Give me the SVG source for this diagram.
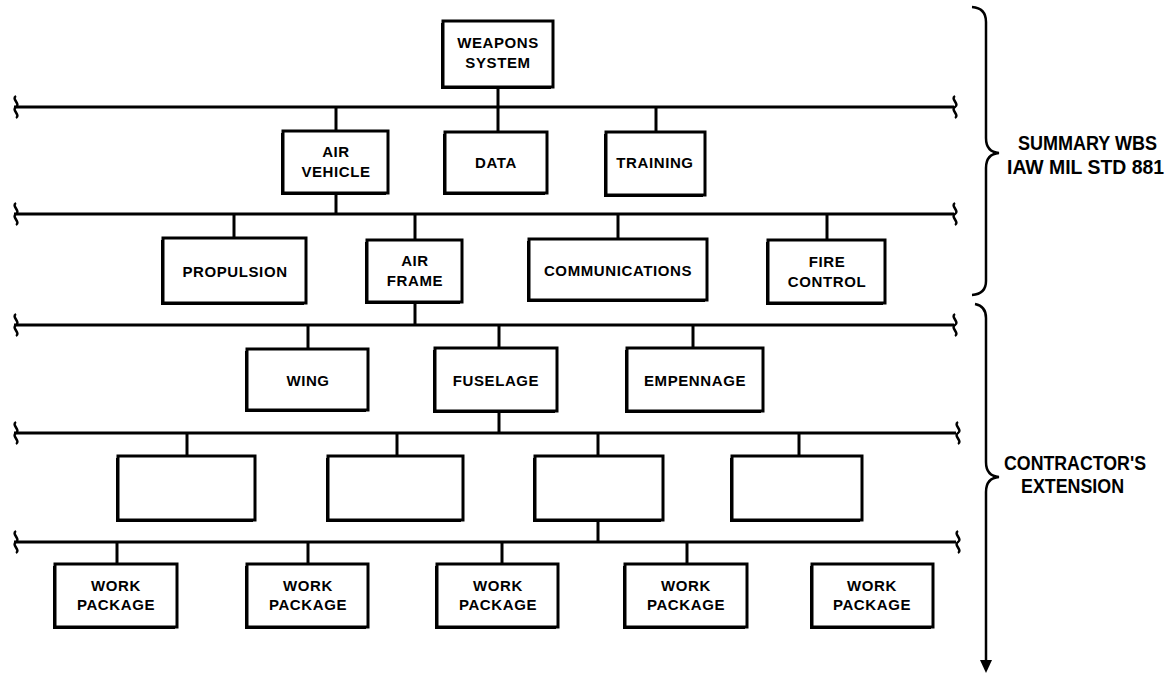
<svg xmlns="http://www.w3.org/2000/svg" xmlns:xlink="http://www.w3.org/1999/xlink" width="1174" height="674" viewBox="0 0 1174 674">
  <style>
    .sh { fill: #000; }
    .box { fill: #fff; stroke: #000; stroke-width: 3; }
    .lbl { font-family: "Liberation Sans", Arial, sans-serif; font-weight: bold; font-size: 15px; letter-spacing: 0.6px; text-anchor: middle; fill: #000; }
    .wire { stroke: #000; stroke-width: 3; fill: none; }
    .brk { stroke: #000; stroke-width: 2.5; fill: none; }
    .side { font-family: "Liberation Sans", Arial, sans-serif; font-weight: bold; font-size: 20px; fill: #000; }
  </style>
  <defs>
    <!-- break mark drawn at each open end of a level bar -->
    <path id="brk" d="M0,-11 c-5,3 5,8 0,11 c-5,3 5,8 0,11"/>
  </defs>
  <rect width="1174" height="674" fill="#fff"/>

  <!-- connectors: level bars, drops and break marks -->
  <g id="connectors">
    <g class="wire">
      <line x1="14" y1="107" x2="954" y2="107"/>
      <line x1="14" y1="214" x2="954" y2="214"/>
      <line x1="14" y1="325" x2="954" y2="325"/>
      <line x1="14" y1="433" x2="956" y2="433"/>
      <line x1="14" y1="542" x2="956" y2="542"/>

      <line x1="498" y1="87" x2="498" y2="132"/>
      <line x1="336" y1="107" x2="336" y2="131"/>
      <line x1="656" y1="107" x2="656" y2="132"/>
      <line x1="336" y1="193" x2="336" y2="214"/>

      <line x1="234" y1="214" x2="234" y2="238"/>
      <line x1="415" y1="214" x2="415" y2="240"/>
      <line x1="618" y1="214" x2="618" y2="239"/>
      <line x1="827" y1="214" x2="827" y2="240"/>
      <line x1="415" y1="302" x2="415" y2="325"/>

      <line x1="308" y1="325" x2="308" y2="349"/>
      <line x1="499" y1="325" x2="499" y2="348"/>
      <line x1="693" y1="325" x2="693" y2="348"/>
      <line x1="499" y1="411" x2="499" y2="433"/>

      <line x1="187" y1="433" x2="187" y2="456"/>
      <line x1="397" y1="433" x2="397" y2="456"/>
      <line x1="598" y1="433" x2="598" y2="456"/>
      <line x1="799" y1="433" x2="799" y2="456"/>
      <line x1="598" y1="520" x2="598" y2="542"/>

      <line x1="117" y1="542" x2="117" y2="564"/>
      <line x1="308" y1="542" x2="308" y2="564"/>
      <line x1="502" y1="542" x2="502" y2="564"/>
      <line x1="687" y1="542" x2="687" y2="564"/>
    </g>
    <g class="brk">
      <use xlink:href="#brk" x="16" y="107"/>
      <use xlink:href="#brk" x="16" y="214"/>
      <use xlink:href="#brk" x="16" y="325"/>
      <use xlink:href="#brk" x="16" y="433"/>
      <use xlink:href="#brk" x="16" y="542"/>
      <use xlink:href="#brk" x="955" y="107"/>
      <use xlink:href="#brk" x="955" y="214"/>
      <use xlink:href="#brk" x="955" y="325"/>
      <use xlink:href="#brk" x="958" y="433"/>
      <use xlink:href="#brk" x="958" y="542"/>
    </g>
  </g>

  <!-- level 1 -->
  <g id="n-weapons-system">
    <rect class="sh" x="441" y="23" width="110" height="66"/>
    <rect class="box" x="443" y="21" width="110" height="66"/>
    <text class="lbl" x="498" y="48">WEAPONS</text>
    <text class="lbl" x="498" y="68">SYSTEM</text>
  </g>

  <!-- level 2 -->
  <g id="n-air-vehicle">
    <rect class="sh" x="281" y="133" width="105" height="62"/>
    <rect class="box" x="283" y="131" width="105" height="62"/>
    <text class="lbl" x="336" y="157">AIR</text>
    <text class="lbl" x="336" y="177">VEHICLE</text>
  </g>
  <g id="n-data">
    <rect class="sh" x="443" y="134" width="102" height="61"/>
    <rect class="box" x="445" y="132" width="102" height="61"/>
    <text class="lbl" x="496" y="168">DATA</text>
  </g>
  <g id="n-training">
    <rect class="sh" x="604" y="134" width="99" height="63"/>
    <rect class="box" x="606" y="132" width="99" height="63"/>
    <text class="lbl" x="655" y="168">TRAINING</text>
  </g>

  <!-- level 3 -->
  <g id="n-propulsion">
    <rect class="sh" x="161" y="240" width="143" height="65"/>
    <rect class="box" x="163" y="238" width="143" height="65"/>
    <text class="lbl" x="235" y="277">PROPULSION</text>
  </g>
  <g id="n-air-frame">
    <rect class="sh" x="365" y="242" width="95" height="62"/>
    <rect class="box" x="367" y="240" width="95" height="62"/>
    <text class="lbl" x="415" y="266">AIR</text>
    <text class="lbl" x="415" y="286">FRAME</text>
  </g>
  <g id="n-communications">
    <rect class="sh" x="527" y="241" width="178" height="61"/>
    <rect class="box" x="529" y="239" width="178" height="61"/>
    <text class="lbl" x="618" y="276">COMMUNICATIONS</text>
  </g>
  <g id="n-fire-control">
    <rect class="sh" x="766" y="242" width="117" height="63"/>
    <rect class="box" x="768" y="240" width="117" height="63"/>
    <text class="lbl" x="827" y="267">FIRE</text>
    <text class="lbl" x="827" y="287">CONTROL</text>
  </g>

  <!-- level 4 -->
  <g id="n-wing">
    <rect class="sh" x="245" y="351" width="121" height="61"/>
    <rect class="box" x="247" y="349" width="121" height="61"/>
    <text class="lbl" x="308" y="386">WING</text>
  </g>
  <g id="n-fuselage">
    <rect class="sh" x="433" y="350" width="122" height="63"/>
    <rect class="box" x="435" y="348" width="122" height="63"/>
    <text class="lbl" x="496" y="386">FUSELAGE</text>
  </g>
  <g id="n-empennage">
    <rect class="sh" x="625" y="350" width="136" height="63"/>
    <rect class="box" x="627" y="348" width="136" height="63"/>
    <text class="lbl" x="695" y="386">EMPENNAGE</text>
  </g>

  <!-- level 5: contractor elements -->
  <g id="n-element-1">
    <rect class="sh" x="116" y="458" width="137" height="64"/>
    <rect class="box" x="118" y="456" width="137" height="64"/>
  </g>
  <g id="n-element-2">
    <rect class="sh" x="326" y="458" width="135" height="64"/>
    <rect class="box" x="328" y="456" width="135" height="64"/>
  </g>
  <g id="n-element-3">
    <rect class="sh" x="533" y="458" width="128" height="64"/>
    <rect class="box" x="535" y="456" width="128" height="64"/>
  </g>
  <g id="n-element-4">
    <rect class="sh" x="730" y="458" width="130" height="64"/>
    <rect class="box" x="732" y="456" width="130" height="64"/>
  </g>

  <!-- level 6: work packages -->
  <g id="n-work-package-1">
    <rect class="sh" x="53" y="566" width="122" height="63"/>
    <rect class="box" x="55" y="564" width="122" height="63"/>
    <text class="lbl" x="116" y="591">WORK</text>
    <text class="lbl" x="116" y="610">PACKAGE</text>
  </g>
  <g id="n-work-package-2">
    <rect class="sh" x="245" y="566" width="121" height="63"/>
    <rect class="box" x="247" y="564" width="121" height="63"/>
    <text class="lbl" x="308" y="591">WORK</text>
    <text class="lbl" x="308" y="610">PACKAGE</text>
  </g>
  <g id="n-work-package-3">
    <rect class="sh" x="435" y="566" width="121" height="63"/>
    <rect class="box" x="437" y="564" width="121" height="63"/>
    <text class="lbl" x="498" y="591">WORK</text>
    <text class="lbl" x="498" y="610">PACKAGE</text>
  </g>
  <g id="n-work-package-4">
    <rect class="sh" x="623" y="566" width="122" height="63"/>
    <rect class="box" x="625" y="564" width="122" height="63"/>
    <text class="lbl" x="686" y="591">WORK</text>
    <text class="lbl" x="686" y="610">PACKAGE</text>
  </g>
  <g id="n-work-package-5">
    <rect class="sh" x="810" y="566" width="121" height="63"/>
    <rect class="box" x="812" y="564" width="121" height="63"/>
    <text class="lbl" x="872" y="591">WORK</text>
    <text class="lbl" x="872" y="610">PACKAGE</text>
  </g>

  <!-- side braces and labels -->
  <g id="summary-brace">
    <path class="brk" d="M972,7 Q986,8 986,22 L986,138 Q986,152 999,153 Q986,154 986,168 L986,281 Q986,294 972,295"/>
    <text class="side" x="1018" y="150" textLength="139" lengthAdjust="spacingAndGlyphs">SUMMARY WBS</text>
    <text class="side" x="1007" y="174" textLength="157" lengthAdjust="spacingAndGlyphs">IAW MIL STD 881</text>
  </g>
  <g id="extension-brace">
    <path class="brk" d="M975,304 Q986,306 986,318 L986,462 Q986,476 999,477 Q986,478 986,492 L986,662"/>
    <polygon points="980,660 992,660 986,673" fill="#000"/>
    <text class="side" x="1004" y="470" textLength="142" lengthAdjust="spacingAndGlyphs">CONTRACTOR'S</text>
    <text class="side" x="1021" y="493" textLength="103" lengthAdjust="spacingAndGlyphs">EXTENSION</text>
  </g>
</svg>
